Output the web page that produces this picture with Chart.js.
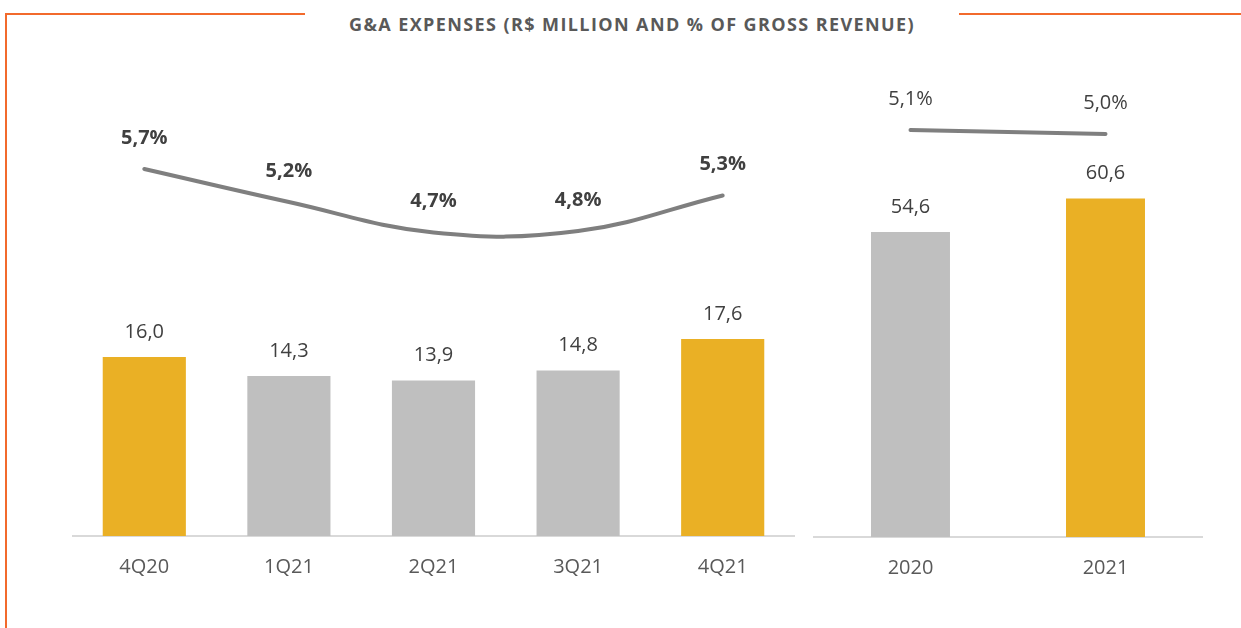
<!DOCTYPE html>
<html>
<head>
<meta charset="utf-8">
<script src="https://cdn.jsdelivr.net/npm/chart.js@4/dist/chart.umd.min.js"></script>
<style>
    body { margin: 0; background: #fff; width: 1241px; height: 628px; overflow: hidden; position: relative; font-family: "Open Sans", sans-serif; }
    .frame { position: absolute; background: #F26A2C; }
    #title { position: absolute; left: 0; width: 1264px; top: 12px; text-align: center; font-weight: 700; font-size: 18px; letter-spacing: 1.4px; color: #595959; white-space: nowrap; }
    .panel { position: absolute; top: 0; height: 628px; }
</style>
</head>
<body>
<div class="frame" style="left:5px; top:13px; width:300px; height:2px;"></div>
<div class="frame" style="left:5px; top:13px; width:2px; height:615px;"></div>
<div class="frame" style="left:959px; top:13px; width:282px; height:2px;"></div>
<div id="title">G&amp;A EXPENSES (R$ MILLION AND % OF GROSS REVENUE)</div>

<div class="panel" style="left:72px; width:723px;"><canvas id="quarterChart"></canvas></div>
<div class="panel" style="left:813px; width:390px;"><canvas id="yearChart"></canvas></div>

<script>
// Data
const quarters = ['4Q20', '1Q21', '2Q21', '3Q21', '4Q21'];
const quarterExpenses = [16.0, 14.3, 13.9, 14.8, 17.6];
const quarterPctRevenue = [5.7, 5.2, 4.74, 4.76, 5.3];

const years = ['2020', '2021'];
const yearExpenses = [54.6, 60.6];
const yearPctRevenue = [5.1, 5.0];

const GOLD = '#EAB025';
const GREY = '#BFBFBF';
const LINE = '#7F7F7F';
const TEXT = '#404040';

function fmt(v) {
    return v.toFixed(1).replace('.', ',');
}

// draws the value labels above bars and line points
const valueLabels = {
    id: 'valueLabels',
    afterDatasetsDraw(chart) {
        const ctx = chart.ctx;
        ctx.save();
        ctx.textAlign = 'center';
        ctx.textBaseline = 'middle';
        chart.data.datasets.forEach((ds, i) => {
            const meta = chart.getDatasetMeta(i);
            const lbl = ds.valueLabel;
            ctx.font = lbl.font;
            ctx.fillStyle = lbl.color;
            meta.data.forEach((el, j) => {
                ctx.fillText(fmt(ds.data[j]) + lbl.suffix, el.x, el.y - lbl.offset);
            });
        });
        ctx.restore();
    }
};

function makeChart(id, labels, bars, pct, colors, barPct, yMax, y2Min, y2Max, pctBold, tension, padBottom) {
    const ctx = document.getElementById(id).getContext('2d');
    return new Chart(ctx, {
        type: 'bar',
        data: {
            labels: labels,
            datasets: [{
                type: 'line',
                data: pct,
                yAxisID: 'y2',
                borderColor: LINE,
                borderWidth: 4,
                borderCapStyle: 'round',
                pointRadius: 0,
                tension: tension,
                order: 0,
                valueLabel: { font: (pctBold ? '700 ' : '400 ') + '20px "Open Sans"', color: TEXT, offset: 31, suffix: '%' }
            }, {
                data: bars,
                yAxisID: 'y',
                backgroundColor: colors,
                barPercentage: barPct,
                categoryPercentage: 1,
                order: 1,
                valueLabel: { font: '400 20px "Open Sans"', color: TEXT, offset: 25, suffix: '' }
            }]
        },
        options: {
            responsive: true,
            maintainAspectRatio: false,
            animation: false,
            layout: { padding: { top: 60, bottom: padBottom, left: 0, right: 0 } },
            plugins: { legend: { display: false }, tooltip: { enabled: false } },
            scales: {
                x: {
                    grid: { display: false, drawTicks: false },
                    border: { display: true, color: '#D9D9D9', width: 2 },
                    ticks: { color: '#595959', font: { family: 'Open Sans', size: 20 }, padding: 19 }
                },
                y: { display: false, min: 0, max: yMax },
                y2: { display: false, min: y2Min, max: y2Max }
            }
        },
        plugins: [valueLabels]
    });
}

makeChart('quarterChart', quarters, quarterExpenses, quarterPctRevenue,
    [GOLD, GREY, GREY, GREY, GOLD], 0.575, 42.54, 0.14, 7.352, true, 0.4, 30);
makeChart('yearChart', years, yearExpenses, yearPctRevenue,
    [GREY, GOLD], 0.405, 85.39, -5.075, 6.85, false, 0, 29);
</script>
</body>
</html>
